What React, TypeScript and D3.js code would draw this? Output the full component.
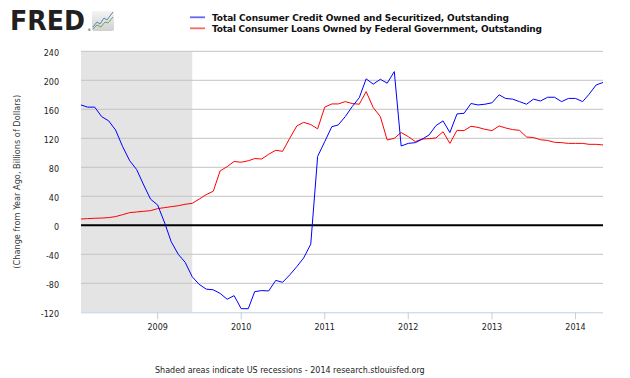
import React from "react";
import * as d3 from "d3";

const START_MONTH = "2008-02";
const blueValues = [
  166, 163, 163, 150, 144, 131.5, 108.5, 89, 77, 55.6, 36, 28, 3, -22.5, -40, -51, -71, -81.4, -88,
  -89, -94, -102, -97, -115, -115, -91.5, -90, -90.6, -76, -78.6, -68.5, -57, -45, -26, 95, 115.4,
  136, 138.4, 150, 163.7, 176, 202, 194.7, 201.4, 196, 212, 109.4, 113, 114, 118.6, 124.6, 137.5,
  144, 128, 153.6, 154.5, 168, 166, 167, 169, 180, 175, 174, 170.6, 167, 174, 171.5, 176.6, 176.6,
  170.6, 175, 175, 170.6, 180.7, 193.6, 197,
];
const redValues = [
  8.7, 9.2, 9.7, 10, 10.6, 12, 14.7, 17.5, 18.4, 19.3, 20.2, 23, 24.4, 25.7, 27, 29, 30.3, 36, 42.3,
  47, 75, 81, 88, 87, 89, 92, 91.5, 98, 103.5, 102, 120, 137, 142, 139, 133, 163, 167.4, 167.4,
  170.6, 168, 167, 184.4, 162.3, 150, 117.7, 120, 128, 122.3, 115.4, 119, 119.5, 120.5, 129, 113,
  131, 130.6, 136.6, 135, 132.4, 130.6, 137, 134.3, 132, 131, 121.8, 121, 118, 117, 114.5, 114,
  113, 113, 113, 111.7, 111.7, 110.8,
];
const yTicks = [240, 200, 160, 120, 80, 40, 0, -40, -80, -120];
const xTickYears = [2009, 2010, 2011, 2012, 2013, 2014];
const recessionStart = "2008-02";
const recessionEnd = "2009-06";
const seriesNames = [
  "Total Consumer Credit Owned and Securitized, Outstanding",
  "Total Consumer Loans Owned by Federal Government, Outstanding",
];
const seriesColors = ["#0000ff", "#ff0000"];

const parseMonth = d3.timeParse("%Y-%m");

export default function App() {
  const start = parseMonth(START_MONTH) as Date;
  const dates = blueValues.map((_, i) => d3.timeMonth.offset(start, i));
  const x = d3
    .scaleTime()
    .domain([start, dates[dates.length - 1]])
    .range([81, 603]);
  const y = d3.scaleLinear().domain([-120, 240]).range([312.3, 51.3]);

  const line = d3
    .line<number>()
    .x((_, i) => x(dates[i]))
    .y((v) => y(v));

  const font = "DejaVu Sans, Verdana, sans-serif";
  const recX0 = x(parseMonth(recessionStart) as Date);
  const recX1 = x(parseMonth(recessionEnd) as Date);
  const legendLengths = [297, 330];

  return (
    <svg
      width={630}
      height={378}
      style={{ position: "absolute", left: 0, top: 0, background: "#fff" }}
      fontFamily={font}
    >
      {/* FRED logo */}
      <text
        x={10}
        y={30}
        fontSize={26.5}
        fontWeight="bold"
        fill="#231f20"
        textLength={75}
        lengthAdjust="spacingAndGlyphs"
      >
        FRED
      </text>
      <text x={87.5} y={31} fontSize={3.5} fill="#231f20">®</text>
      <g>
        <defs>
          <linearGradient id="lg" x1="0" y1="0" x2="0" y2="1">
            <stop offset="0" stopColor="#f4f4f4" />
            <stop offset="1" stopColor="#d0d0d0" />
          </linearGradient>
        </defs>
        <rect x={92} y={11} width={22} height={20} rx={2} fill="url(#lg)" />
        <polyline points="93,27 97,22 100,24 104,18 107,20 113,12" fill="none" stroke="#5a86b6" strokeWidth={1} />
        <polyline points="93,29 97,25 101,27 105,22 108,23 113,17" fill="none" stroke="#6aa84f" strokeWidth={1} />
      </g>

      {/* Legend */}
      {seriesNames.map((name, k) => (
        <g key={name}>
          <line x1={190} x2={205} y1={17.3 + k * 11} y2={17.3 + k * 11} stroke={seriesColors[k]} strokeOpacity={0.6} strokeWidth={1.8} />
          <text
            x={212}
            y={20.5 + k * 11}
            fontSize={9}
            fontWeight="bold"
            fill="#111"
            textLength={legendLengths[k]}
            lengthAdjust="spacing"
          >
            {name}
          </text>
        </g>
      ))}

      {/* Recession shading */}
      <rect x={recX0} y={y(240)} width={recX1 - recX0} height={y(-120) - y(240)} fill="#e4e4e4" />

      {/* Gridlines */}
      {yTicks.filter((t) => t !== 0 && t !== -120).map((t) => (
        <line key={t} x1={81} x2={603} y1={y(t)} y2={y(t)} stroke="#c4c4c4" strokeWidth={1} />
      ))}

      {/* Y labels */}
      {yTicks.map((t) => (
        <text key={t} x={59} y={y(t) + 5} fontSize={8} textAnchor="end" fill="#222">
          {t}
        </text>
      ))}

      {/* Y title */}
      <text
        transform={`translate(20,${y(60)}) rotate(-90)`}
        fontSize={8.2}
        textAnchor="middle"
        fill="#333"
      >
        (Change from Year Ago, Billions of Dollars)
      </text>

      {/* Zero line */}
      <line x1={81} x2={603} y1={y(0)} y2={y(0)} stroke="#000" strokeWidth={2} />

      {/* X axis */}
      <line x1={81} x2={603} y1={y(-120) + 0.5} y2={y(-120) + 0.5} stroke="#c0d0e0" strokeWidth={1} />
      {xTickYears.map((yr) => {
        const xx = x(new Date(yr, 0, 1));
        return (
          <g key={yr}>
            <line x1={xx} x2={xx} y1={y(-120)} y2={y(-120) + 7} stroke="#c0d0e0" strokeWidth={1} />
            <text x={xx} y={330} fontSize={8} textAnchor="middle" fill="#222">
              {yr}
            </text>
          </g>
        );
      })}

      {/* Series */}
      <path d={line(redValues) || ""} fill="none" stroke={seriesColors[1]} strokeWidth={1} strokeLinejoin="round" />
      <path d={line(blueValues) || ""} fill="none" stroke={seriesColors[0]} strokeWidth={1} strokeLinejoin="round" />

      {/* Caption */}
      <text x={155} y={373} fontSize={8} fill="#222">
        Shaded areas indicate US recessions - 2014 research.stlouisfed.org
      </text>
    </svg>
  );
}
